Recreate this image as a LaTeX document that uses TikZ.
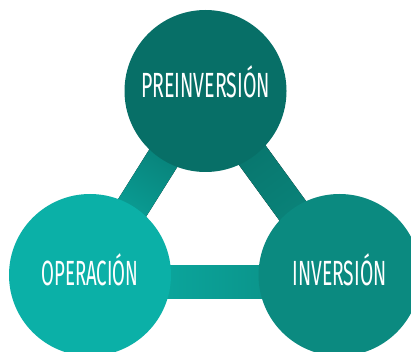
\documentclass[tikz,border=0pt]{standalone}
\usepackage{fontspec}
\usepackage{graphicx}
\newfontfamily\labelfont{Fira Sans}
\usetikzlibrary{calc}
\definecolor{preCol}{HTML}{076F67}
\definecolor{opeCol}{HTML}{0BB0A7}
\definecolor{invCol}{HTML}{0B8A80}
\pgfdeclarelayer{background}
\pgfsetlayers{background,main}
\tikzset{
  phase/.style={circle, minimum size=162pt, inner sep=0pt, outer sep=0pt},
  lbl/.style={text=white, font=\labelfont\fontsize{35}{35}\selectfont,
    anchor=base, inner sep=0pt},
}
% narrow caption: natural height, fixed width
\newcommand\narrowcap[2]{\resizebox{#1}{\height}{#2}}

\begin{document}
\begin{tikzpicture}[x=1pt,y=-1pt]
\useasboundingbox (0,0) rectangle (411,352);

% the three phases
\node[phase, fill=preCol] (pre) at (205.5,91) {};
\node[phase, fill=opeCol] (ope) at (90,275) {};
\node[phase, fill=invCol] (inv) at (339.5,275) {};

\node[lbl] (preT) at ([yshift=-7pt]pre.center) {\narrowcap{129pt}{PREINVERSIÓN}};
\node[lbl] (opeT) at ([yshift=-10pt]ope.center) {\narrowcap{97pt}{OPERACIÓN}};
\node[lbl] (invT) at ([yshift=-10pt]inv.center) {\narrowcap{94pt}{INVERSIÓN}};

% shaded links behind the circles
\begin{pgfonlayer}{background}
  \fill[bottom color=opeCol, top color=preCol, shading angle=-32]
    ($(pre.center)!16.5pt!90:(ope.center)$) --
    ($(ope.center)!16.5pt!-90:(pre.center)$) --
    ($(ope.center)!16.5pt!90:(pre.center)$) --
    ($(pre.center)!16.5pt!-90:(ope.center)$) -- cycle;
  \fill[bottom color=invCol, top color=preCol, shading angle=36]
    ($(pre.center)!16.5pt!90:(inv.center)$) --
    ($(inv.center)!16.5pt!-90:(pre.center)$) --
    ($(inv.center)!16.5pt!90:(pre.center)$) --
    ($(pre.center)!16.5pt!-90:(inv.center)$) -- cycle;
  \fill[bottom color=opeCol, top color=invCol, shading angle=-90]
    ($(ope.center)+(0,-10)$) rectangle ($(inv.center)+(0,23)$);
\end{pgfonlayer}
\end{tikzpicture}
\end{document}
